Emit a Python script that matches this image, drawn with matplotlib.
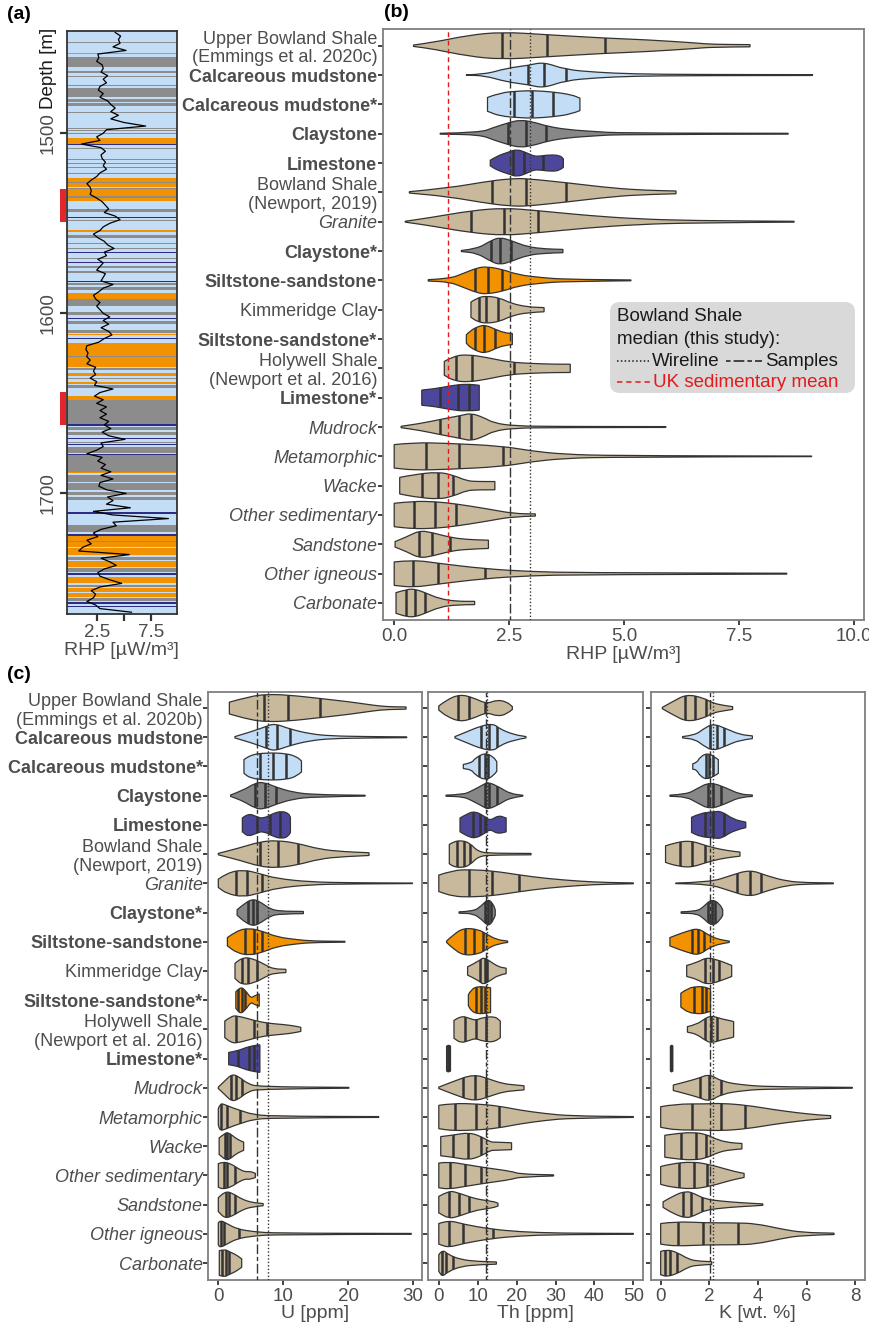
import matplotlib
matplotlib.use("Agg")
import matplotlib.pyplot as plt
from matplotlib.path import Path
from matplotlib.patches import PathPatch, Rectangle, FancyBboxPatch
from matplotlib.lines import Line2D
from matplotlib.transforms import blended_transform_factory, IdentityTransform
from matplotlib.ticker import FormatStrFormatter

plt.rcParams['font.family'] = ['Liberation Sans', 'DejaVu Sans']

W, H = 870, 1331

TAN = '#c9b99c'
LIGHT_BLUE = '#c2ddf5'
GREY = '#878787'
NAVY = '#4d479b'
ORANGE = '#f39200'
EDGE = '#333333'
RED = '#e31a1c'
TEXT = '#4d4d4d'

# ---------------------------------------------------------------- categories
categories = ['Upper Bowland Shale\n(Emmings et al. 2020c)', 'Calcareous mudstone',
              'Calcareous mudstone*', 'Claystone', 'Limestone',
              'Bowland Shale\n(Newport, 2019)', 'Granite', 'Claystone*',
              'Siltstone-sandstone', 'Kimmeridge Clay', 'Siltstone-sandstone*',
              'Holywell Shale\n(Newport et al. 2016)', 'Limestone*', 'Mudrock',
              'Metamorphic', 'Wacke', 'Other sedimentary', 'Sandstone',
              'Other igneous', 'Carbonate']
categories_c = ['Upper Bowland Shale\n(Emmings et al. 2020b)'] + categories[1:]
label_style = ['normal', 'bold', 'bold', 'bold', 'bold', 'normal', 'italic', 'bold',
               'bold', 'normal', 'bold', 'normal', 'bold'] + ['italic'] * 7
fill_colors = [TAN, LIGHT_BLUE, LIGHT_BLUE, GREY, NAVY, TAN, TAN, GREY, ORANGE, TAN,
               ORANGE, TAN, NAVY] + [TAN] * 7

# violin outlines: (value, relative half width) ; quartiles: (q1, median, q3)
rhp_profiles = [
    [(0.42, .05), (0.87, .25), (1.59, .75), (2.34, 1.), (3.32, .8), (4.59, .55), (5.5, .43), (6.57, .2), (6.9, .1), (7.74, .08)],
    [(1.57, .02), (1.96, .04), (2.45, .5), (2.92, .7), (3.25, .95), (3.72, .4), (4.4, .2), (5.2, .08), (6.5, .04), (9.1, .03)],
    [(2.03, .5), (2.3, .85), (2.74, .97), (3.03, 1.), (3.46, .9), (3.86, .7), (4.04, .45)],
    [(1.0, .03), (1.87, .08), (2.16, .45), (2.49, .8), (2.74, 1.), (3.03, .85), (3.32, .55), (3.75, .3), (4.4, .15), (4.9, .05), (8.57, .03)],
    [(2.09, .2), (2.23, .5), (2.49, .8), (2.67, 1.), (2.88, .75), (3.03, .5), (3.17, .5), (3.39, .6), (3.61, .55), (3.68, .3)],
    [(0.33, .05), (1.15, .3), (2.12, .85), (2.59, 1.), (2.88, 1.), (3.75, .7), (4.77, .3), (5.5, .15), (6.13, .1)],
    [(0.24, .03), (0.8, .3), (1.67, .8), (2.4, 1.), (3.13, .8), (4.2, .45), (5.3, .2), (6.5, .08), (8.7, .03)],
    [(1.46, .04), (1.8, .15), (2.1, .75), (2.3, 1.), (2.55, .75), (2.9, .3), (3.3, .15), (3.67, .12)],
    [(0.74, .05), (1.2, .12), (1.5, .5), (1.8, .9), (2.0, 1.), (2.35, .8), (2.7, .4), (3.2, .2), (3.7, .08), (5.15, .03)],
    [(1.67, .55), (1.8, .85), (2.0, 1.), (2.3, .85), (2.55, .45), (2.9, .2), (3.26, .15)],
    [(1.57, .3), (1.65, .6), (1.85, .95), (2.0, 1.), (2.2, .7), (2.4, .45), (2.57, .4)],
    [(1.09, .5), (1.3, .9), (1.6, 1.), (2.0, .8), (2.5, .45), (3.0, .35), (3.5, .3), (3.83, .3)],
    [(0.6, .55), (0.9, .65), (1.2, .85), (1.55, 1.), (1.85, .9)],
    [(0.15, .05), (0.57, .25), (1.0, .55), (1.48, .85), (1.67, 1.), (1.94, .7), (2.16, .3), (2.6, .08), (3.5, .04), (5.91, .03)],
    [(0.0, .85), (0.42, 1.), (1.14, .95), (2.34, .75), (2.96, .4), (3.68, .15), (4.77, .05), (9.08, .02)],
    [(0.12, .6), (0.42, .8), (0.96, 1.), (1.29, .75), (1.58, .35), (1.8, .3), (2.19, .3)],
    [(0.0, .85), (0.42, 1.), (0.89, .97), (1.36, .8), (2.02, .45), (2.6, .1), (3.07, .08)],
    [(0.02, .2), (0.28, .55), (0.55, 1.), (0.83, .85), (1.22, .5), (1.58, .35), (2.05, .3)],
    [(0.0, .85), (0.42, 1.), (0.96, .75), (1.98, .35), (2.96, .15), (4.04, .07), (8.54, .03)],
    [(0.04, .75), (0.28, 1.), (0.46, 1.), (0.67, .75), (0.99, .3), (1.36, .12), (1.75, .12)],
]
rhp_quartiles = [(2.34, 3.32, 4.59), (2.92, 3.26, 3.74), (2.61, 2.99, 3.46), (2.48, 2.87, 3.3),
                 (2.59, 2.83, 3.23), (2.12, 2.87, 3.73), (1.67, 2.39, 3.13), (2.1, 2.3, 2.55),
                 (1.75, 2.05, 2.35), (1.85, 2.0, 2.25), (1.75, 1.95, 2.2), (1.35, 1.7, 2.6),
                 (1.0, 1.38, 1.62), (0.99, 1.42, 1.67), (0.69, 1.41, 2.36), (0.6, 0.96, 1.28),
                 (0.43, 0.89, 1.35), (0.55, 0.82, 1.22), (0.42, 0.96, 1.98), (0.26, 0.46, 0.66)]

u_profiles = [
    [(1.7, .43), (4.9, .85), (7.4, 1.), (10.8, .95), (15.6, .7), (20.3, .45), (23.9, .2), (26, .1), (28.9, .08)],
    [(2.57, .05), (5.4, .45), (7.4, .8), (8.7, 1.), (11.0, .6), (14.1, .25), (17.2, .1), (22.8, .05), (29.0, .03)],
    [(3.95, .5), (4.9, .85), (7.4, 1.), (10.5, .95), (12.1, .7), (12.8, .4)],
    [(1.9, .05), (3.85, .4), (5.6, .9), (6.9, 1.), (9.0, .6), (11.5, .25), (14.6, .08), (22.6, .03)],
    [(3.7, .5), (4.6, .85), (5.9, .6), (6.9, .45), (8.5, .85), (9.75, 1.), (10.8, .85), (11.1, .55)],
    [(0.0, .05), (3.3, .45), (6.4, .9), (9.0, 1.), (12.1, .8), (15.6, .35), (19.2, .18), (23.2, .1)],
    [(0.0, .3), (1.3, .75), (3.85, 1.), (6.4, .7), (9.0, .35), (14.1, .1), (20.3, .04), (29.9, .02)],
    [(2.9, .2), (4.1, .7), (5.4, 1.), (6.7, .7), (8.0, .25), (9.5, .1), (13.1, .08)],
    [(1.4, .3), (2.8, .8), (4.8, 1.), (6.9, .75), (9.0, .35), (12.1, .15), (14.6, .05), (19.5, .03)],
    [(2.57, .55), (3.6, 1.), (5.4, .9), (7.4, .4), (8.5, .15), (10.4, .12)],
    [(2.7, .6), (3.4, 1.), (4.2, .7), (5.0, .15), (5.5, .3), (6.3, .45)],
    [(1.0, .6), (1.95, .95), (2.9, 1.), (5.5, .65), (7.5, .45), (10.1, .35), (11.7, .25), (12.7, .15)],
    [(1.6, .45), (2.9, .55), (4.2, .8), (5.5, .95), (6.4, 1.)],
    [(0.0, .05), (1.0, .5), (2.1, 1.), (3.2, .8), (4.5, .3), (6.2, .08), (20.1, .03)],
    [(0.0, .6), (0.3, 1.), (1.0, .9), (2.3, .65), (3.6, .45), (5.2, .2), (8.1, .06), (24.7, .03)],
    [(0.13, .6), (1.0, .95), (1.6, 1.), (2.6, .6), (3.6, .35), (3.9, .3)],
    [(0.0, .85), (0.65, 1.), (1.95, .85), (3.2, .45), (4.2, .25), (4.9, .3), (5.7, .15)],
    [(0.0, .5), (1.0, 1.), (2.3, .8), (3.6, .4), (5.2, .15), (6.9, .08)],
    [(0.0, .8), (0.3, 1.), (1.3, .75), (2.9, .35), (5.5, .15), (8.8, .05), (29.7, .03)],
    [(0.15, .9), (1.0, 1.), (1.6, .85), (2.3, .7), (2.9, .55), (3.6, .3)],
]
u_quartiles = [(7.0, 10.8, 15.6), (7.3, 9.1, 11.0), (6.4, 8.4, 10.4), (5.65, 7.2, 8.9),
               (6.0, 7.95, 9.5), (6.4, 9.2, 12.3), (2.7, 4.36, 6.8), (4.6, 5.4, 6.0),
               (4.1, 5.5, 6.7), (3.6, 4.6, 5.9), (3.1, 3.6, 4.1), (2.8, 5.5, 7.5),
               (3.1, 4.7, 5.5), (1.95, 2.7, 3.6), (0.45, 1.4, 3.4), (1.0, 1.4, 1.8),
               (0.8, 1.4, 2.5), (1.2, 1.7, 2.6), (0.35, 0.8, 3.2), (0.5, 1.2, 1.7)]

th_profiles = [
    [(0.0, .15), (2.0, .6), (5.45, 1.), (8.9, .75), (12.3, .3), (14.9, .6), (17.5, .45), (18.9, .1)],
    [(4.16, .05), (7.2, .4), (10.6, .8), (14.0, 1.), (15.7, .6), (19.2, .2), (22.4, .05)],
    [(6.3, .15), (8.45, .25), (9.3, .6), (11.9, 1.), (14.0, .7), (14.9, .35)],
    [(1.85, .04), (6.3, .08), (8.45, .35), (11.4, .8), (12.7, 1.), (15.7, .6), (18.3, .15), (21.6, .03)],
    [(5.45, .5), (7.2, .8), (9.3, 1.), (11.9, .6), (13.2, .3), (15.3, .7), (17.3, .5)],
    [(2.7, .7), (3.7, .9), (5.9, 1.), (8.0, .8), (10.2, .15), (14.0, .06), (23.7, .05)],
    [(0.0, .6), (3.7, .95), (8.0, 1.), (14, .9), (20.9, .6), (27.7, .35), (36.3, .15), (43.2, .06), (50, .03)],
    [(5.2, .05), (8.9, .08), (11.0, .5), (12.7, 1.), (14.0, .6), (14.5, .2)],
    [(2.0, .05), (3.7, .5), (6.3, 1.), (10.2, .9), (12.3, .55), (14.9, .15), (17.7, .05)],
    [(7.4, .3), (10.2, .7), (11.45, 1.), (13.2, .7), (15.3, .3), (17.3, .2)],
    [(7.6, .4), (8.4, .8), (10.0, 1.), (12.2, .95), (13.3, .9)],
    [(3.9, .65), (5.7, 1.), (7.9, .8), (9.5, .65), (11.1, .85), (14.4, .95), (15.8, .6)],
    [(2.0, .9), (2.5, 1.), (3.0, .9)],
    [(0.0, .05), (3.6, .45), (9.0, 1.), (13.3, .6), (16.5, .3), (19.8, .2), (21.9, .15)],
    [(0.0, .85), (3.6, 1.), (10, .95), (15.4, .8), (20.8, .5), (27.3, .25), (33.8, .08), (50, .03)],
    [(0.5, .7), (3.6, .8), (7.6, 1.), (10.6, .75), (13.3, .3), (14.4, .3), (18.7, .25)],
    [(0.0, .9), (2.5, 1.), (6.8, .8), (12.2, .55), (18.7, .3), (20.8, .1), (29.5, .04)],
    [(0.0, .6), (2.5, 1.), (4.6, .9), (9.0, .45), (12.2, .3), (14.4, .2), (15.2, .1)],
    [(0.0, .75), (2.5, 1.), (6.3, .7), (13.3, .35), (20.8, .15), (30.6, .05), (50, .03)],
    [(0.0, .6), (0.9, 1.), (2.5, .6), (5.7, .25), (10.0, .12), (14.8, .08)],
]
th_quartiles = [(5.0, 7.85, 12.0), (10.85, 12.9, 15.05), (10.3, 11.9, 12.7), (11.9, 12.9, 14.9),
                (8.9, 10.6, 11.9), (4.6, 6.5, 8.0), (7.85, 13.75, 20.6), (11.95, 12.7, 13.3),
                (6.7, 9.05, 11.45), (10.6, 11.9, 12.5), (9.5, 10.9, 12.0), (6.8, 9.5, 12.2),
                (2.3, 2.55, 2.8), (6.3, 9.2, 12.2), (4.1, 9.5, 15.4), (3.6, 7.6, 10.9),
                (2.8, 6.8, 10.9), (2.7, 5.3, 7.8), (2.7, 6.1, 13.8), (0.9, 1.8, 3.7)]

k_profiles = [
    [(0.07, .05), (0.52, .5), (1.07, 1.), (1.75, .75), (2.16, .35), (2.58, .2), (2.96, .1)],
    [(0.9, .05), (1.41, .15), (1.75, .6), (2.16, 1.), (2.72, .6), (3.26, .2), (3.77, .1)],
    [(1.32, .2), (1.48, .25), (1.62, .7), (1.96, 1.), (2.37, .5)],
    [(0.38, .04), (1.07, .1), (1.48, .5), (2.03, 1.), (2.72, .55), (3.26, .1), (3.77, .05)],
    [(1.27, .55), (1.62, .85), (2.16, .95), (2.5, 1.), (2.99, .4), (3.5, .2)],
    [(0.2, .6), (0.52, .8), (1.2, 1.), (1.89, .6), (2.44, .35), (2.99, .2), (3.26, .15)],
    [(0.62, .02), (2.03, .08), (2.85, .55), (3.67, 1.), (4.36, .55), (5.19, .15), (6.0, .05), (7.1, .03)],
    [(0.84, .05), (1.48, .08), (1.75, .4), (2.1, 1.), (2.44, .6), (2.55, .2)],
    [(0.38, .3), (0.66, .5), (1.07, .75), (1.55, 1.), (2.03, .4), (2.44, .15), (2.82, .05)],
    [(1.07, .4), (1.48, .6), (1.89, 1.), (2.44, .75), (2.92, .4)],
    [(0.83, .5), (1.13, .9), (1.57, 1.), (1.83, .95), (2.05, .8)],
    [(1.1, .2), (1.48, .35), (1.83, .8), (2.09, 1.), (2.52, .75), (2.96, .6), (3.0, .55)],
    [(0.4, .9), (0.45, 1.), (0.5, .9)],
    [(0.52, .2), (0.96, .4), (1.57, .7), (2.0, 1.), (2.52, .45), (3.39, .2), (4.43, .08), (7.88, .03)],
    [(0.0, .75), (0.61, .95), (1.83, .95), (2.52, 1.), (3.57, .85), (4.6, .55), (5.65, .3), (6.5, .15), (6.99, .1)],
    [(0.17, .8), (0.78, .95), (1.3, 1.), (1.83, .9), (2.35, .45), (2.87, .25), (3.34, .2)],
    [(0.0, .65), (0.43, .85), (1.3, 1.), (2.0, .8), (2.7, .45), (3.13, .25), (3.43, .15)],
    [(0.1, .2), (0.52, .65), (1.04, 1.), (1.39, .8), (1.83, .4), (2.52, .25), (3.22, .15), (4.2, .05)],
    [(0.0, .75), (0.61, .9), (1.83, .8), (3.04, .8), (3.91, .75), (4.96, .35), (5.83, .1), (7.13, .05)],
    [(0.0, .85), (0.26, 1.), (0.7, .75), (1.13, .3), (1.48, .15), (2.1, .1)],
]
k_quartiles = [(1.0, 1.41, 1.86), (2.03, 2.3, 2.6), (1.85, 2.0, 2.15), (1.95, 2.15, 2.48),
               (1.82, 2.16, 2.6), (0.79, 1.3, 1.82), (3.13, 3.67, 4.12), (1.96, 2.1, 2.23),
               (1.27, 1.55, 1.78), (1.82, 2.14, 2.41), (1.39, 1.69, 1.88), (1.83, 2.05, 2.31),
               (0.42, 0.45, 0.48), (1.6, 2.0, 2.49), (1.27, 2.49, 3.48), (0.82, 1.44, 1.88),
               (0.75, 1.39, 1.91), (0.9, 1.23, 1.69), (0.73, 1.75, 3.19), (0.18, 0.38, 0.66)]

# Bowland Shale medians (samples, wireline) and UK sedimentary mean
rhp_medians = (2.52, 2.96)
uk_sed_mean_rhp = 1.17
u_medians = (6.0, 7.6)
th_medians = (12.25, 12.45)
k_medians = (2.03, 2.15)

# ---------------------------------------------------------------- well log
log_depth = list(range(1444, 1767, 2))
log_rhp = [4.2, 4.7, 4.5, 4.65, 4.0, 5.2, 2.6, 2.7, 2.5, 3.0, 3.1, 2.9, 3.5, 3.1, 3.4, 2.8,
           2.65, 3.1, 2.8, 3.5, 3.8, 4.2, 3.8, 4.5, 3.8, 5.0, 7.0, 3.4, 3.1, 2.5, 2.8, 1.1,
           2.9, 3.3, 2.9, 3.0, 3.3, 3.1, 3.4, 2.8, 2.5, 2.0, 1.6, 1.9, 2.0, 1.9, 2.5, 3.0,
           3.3, 3.6, 3.2, 4.2, 4.65, 3.7, 3.1, 2.8, 2.2, 2.6, 3.2, 3.5, 4.1, 3.2, 3.4, 2.6,
           3.1, 2.8, 2.5, 3.3, 3.1, 2.9, 4.0, 3.1, 2.7, 2.2, 2.4, 2.8, 2.5, 2.8, 3.1, 3.7,
           3.1, 3.6, 2.9, 3.6, 3.9, 3.2, 2.7, 1.6, 1.5, 1.7, 1.58, 1.9, 1.6, 2.4, 2.2, 2.4,
           1.9, 2.5, 2.3, 4.0, 2.8, 2.3, 3.1, 2.5, 3.4, 2.8, 3.4, 2.8, 3.6, 3.2, 3.8, 3.0,
           3.6, 5.1, 2.9, 3.1, 2.5, 1.6, 3.0, 2.6, 3.3, 2.9, 3.8, 2.9, 4.0, 2.8, 2.7, 3.4,
           5.2, 3.5, 4.0, 3.4, 5.6, 2.2, 4.0, 9.1, 4.0, 4.3, 2.9, 2.2, 2.6, 1.6, 2.0, 1.2,
           0.85, 5.5, 2.9, 3.7, 4.3, 3.2, 2.6, 2.8, 3.7, 4.8, 2.8, 2.0, 2.4, 2.2, 1.6, 2.4,
           2.8, 5.7]

# lithology beds (top, base) in m; the background is calcareous mudstone
claystone_beds = [(1449.2, 1449.7), (1457.9, 1463.0), (1465.6, 1466.4), (1468.1, 1468.5),
                  (1471.3, 1471.7), (1473.1, 1473.7), (1474.9, 1479.6), (1481.1, 1482.4),
                  (1483.3, 1484.8), (1488.0, 1488.9), (1497.0, 1497.5), (1498.0, 1498.5),
                  (1500.0, 1500.4), (1508.3, 1508.6), (1510.2, 1510.5), (1512.0, 1512.3),
                  (1514.4, 1514.7), (1516.6, 1516.9), (1518.5, 1519.4), (1522.2, 1522.5),
                  (1523.7, 1524.0), (1527.0, 1527.4), (1530.6, 1531.0), (1534.8, 1536.0),
                  (1542.0, 1543.9), (1548.1, 1548.5), (1549.6, 1550.0), (1556.5, 1558.3),
                  (1561.1, 1561.5), (1563.9, 1564.3), (1569.3, 1569.7), (1573.7, 1574.8),
                  (1576.5, 1577.6), (1583.3, 1584.3), (1585.2, 1587.0), (1592.2, 1595.9),
                  (1599.1, 1600.9), (1604.0, 1605.8), (1609.3, 1610.7), (1623.7, 1624.4),
                  (1630.6, 1631.5), (1636.1, 1636.7), (1639.8, 1641.7), (1648.1, 1661.5),
                  (1663.0, 1664.8), (1665.7, 1667.6), (1671.3, 1672.2), (1674.1, 1677.8),
                  (1678.7, 1688.0), (1689.8, 1693.5), (1694.4, 1698.1), (1699.1, 1700.9),
                  (1701.8, 1703.7), (1717.6, 1721.3), (1726.3, 1727.2), (1735.2, 1737.0),
                  (1741.7, 1743.5), (1750.9, 1751.9), (1758.3, 1759.6)]
siltstone_beds = [(1455.4, 1455.9), (1502.4, 1505.9), (1524.6, 1526.9), (1527.4, 1530.0),
                  (1531.0, 1534.8), (1536.0, 1537.4), (1554.0, 1555.0), (1588.9, 1592.2),
                  (1611.3, 1611.9), (1616.3, 1623.7), (1624.4, 1629.6), (1633.3, 1634.8),
                  (1638.0, 1639.0), (1645.9, 1648.1), (1688.0, 1688.9), (1723.7, 1726.3),
                  (1727.2, 1729.6), (1730.6, 1734.3), (1737.4, 1740.7), (1746.3, 1750.0),
                  (1752.8, 1754.6), (1755.5, 1757.4)]
limestone_beds = [(1457.4, 1457.9), (1506.0, 1506.4), (1520.2, 1520.6), (1546.5, 1546.9),
                  (1566.1, 1566.6), (1571.3, 1571.8), (1582.2, 1582.7), (1602.6, 1603.0),
                  (1613.8, 1614.4), (1661.5, 1662.6), (1669.4, 1670.0), (1672.6, 1673.1),
                  (1678.0, 1678.7), (1710.5, 1711.2), (1722.5, 1723.7), (1744.4, 1745.2),
                  (1760.5, 1761.2), (1762.3, 1762.9)]
sampled_intervals = [(1531.0, 1549.4), (1643.9, 1662.2)]

HALF = 0.47
SAMPLES_LS = (0, (3, 2, 7, 2))
WIRELINE_LS = (0, (1, 1.5))
UK_LS = (0, (3.5, 2.5))


def box(x0, y0, x1, y1):
    """pixel box (from the top left corner) -> figure fraction rect"""
    return [x0 / W, 1 - y1 / H, (x1 - x0) / W, (y1 - y0) / H]


def draw_violin(ax, row, profile, quart, color):
    xs = [p[0] for p in profile]
    ws = [p[1] * HALF for p in profile]
    upper = [(x, row - w) for x, w in zip(xs, ws)]
    lower = [(x, row + w) for x, w in zip(xs, ws)][::-1]
    verts, codes = [upper[0]], [Path.MOVETO]
    for side in (upper, lower):
        if side is lower:
            verts.append(side[0])
            codes.append(Path.LINETO)
        for i in range(1, len(side) - 1):
            mid = ((side[i][0] + side[i + 1][0]) / 2, (side[i][1] + side[i + 1][1]) / 2)
            verts += [side[i], mid]
            codes += [Path.CURVE3, Path.CURVE3]
        verts.append(side[-1])
        codes.append(Path.LINETO)
    verts.append(upper[0])
    codes.append(Path.CLOSEPOLY)
    patch = PathPatch(Path(verts, codes), facecolor=color, edgecolor=EDGE, lw=0.9, zorder=2)
    ax.add_patch(patch)
    for q in quart:
        ln, = ax.plot([q, q], [row - 0.5, row + 0.5], color=EDGE, lw=1.8, zorder=3,
                      solid_capstyle='butt')
        ln.set_clip_path(patch)


def violin_panel(ax, profiles, quartiles, medians, xlim, labels=None):
    for i in range(len(profiles)):
        draw_violin(ax, i, profiles[i], quartiles[i], fill_colors[i])
    ax.axvline(medians[0], color=EDGE, lw=1.0, ls=SAMPLES_LS, zorder=4)
    ax.axvline(medians[1], color=EDGE, lw=1.0, ls=WIRELINE_LS, zorder=4)
    ax.set_xlim(*xlim)
    ax.set_ylim(19.58, -0.56)
    ax.set_yticks(range(len(profiles)))
    ax.tick_params(axis='both', length=3.5, width=1.3, color=EDGE, labelcolor=TEXT)
    ax.tick_params(axis='y', labelsize=13, pad=0.5)
    ax.tick_params(axis='x', labelsize=13.5, pad=2)
    if labels is None:
        ax.set_yticklabels([])
    else:
        ax.set_yticklabels(labels, linespacing=1.12)
        for lbl, st in zip(ax.get_yticklabels(), label_style):
            if st == 'bold':
                lbl.set_fontweight('bold')
            elif st == 'italic':
                lbl.set_fontstyle('italic')
    for sp in ax.spines.values():
        sp.set_color('#7f7f7f')
        sp.set_linewidth(1.3)


fig = plt.figure(figsize=(W / 100, H / 100), dpi=100)

# ---------------------------------------------------------------- (a) well log
ax_a = fig.add_axes(box(66.7, 31, 176.7, 614))
ax_a.set_facecolor(LIGHT_BLUE)
for beds, col in ((claystone_beds, '#8c8c8c'), (siltstone_beds, ORANGE),
                  (limestone_beds, '#2d2d85')):
    for top, base in beds:
        ax_a.axhspan(top, base, color=col, lw=0, zorder=1)
ax_a.plot(log_rhp, log_depth, color='black', lw=0.9, zorder=3)
ax_a.set_xlim(-0.26, 9.86)
ax_a.set_ylim(1767, 1443.2)
ax_a.set_xticks([2.5, 5, 7.5])
ax_a.set_xticklabels(['2.5', '', '7.5'])
ax_a.set_yticks([1500, 1600, 1700])
ax_a.set_yticklabels(['1500', '1600', '1700'], rotation=90, va='center')
ax_a.tick_params(axis='both', length=5, width=1.6, color=EDGE, labelcolor=TEXT,
                 labelsize=13.5, pad=2)
for sp in ax_a.spines.values():
    sp.set_color(EDGE)
    sp.set_linewidth(1.3)
ax_a.set_xlabel('RHP [µW/m³]', fontsize=14, color=TEXT, labelpad=1)
mark = blended_transform_factory(ax_a.transAxes, ax_a.transData)
for top, base in sampled_intervals:
    ax_a.add_patch(Rectangle((-0.062, top), 0.055, base - top, transform=mark,
                             color='#e3262b', lw=0, clip_on=False))
fig.text(49 / W, 1 - 68 / H, 'Depth [m]', rotation=90, ha='center', va='center',
         fontsize=13.5, color='#1a1a1a')

# ---------------------------------------------------------------- (b) RHP
ax_b = fig.add_axes(box(382.7, 29.3, 864, 620))
violin_panel(ax_b, rhp_profiles, rhp_quartiles, rhp_medians, (-0.25, 10.22), categories)
ax_b.axvline(uk_sed_mean_rhp, color=RED, lw=1.0, ls=UK_LS, zorder=4)
ax_b.set_xticks([0, 2.5, 5, 7.5, 10])
ax_b.xaxis.set_major_formatter(FormatStrFormatter('%.1f'))
ax_b.set_xlabel('RHP [µW/m³]', fontsize=14, color=TEXT, labelpad=1)

# legend box
fig.add_artist(FancyBboxPatch((610, H - 393), 245, 91, boxstyle='round,pad=0,rounding_size=10',
                              transform=IdentityTransform(), facecolor='#d9d9d9',
                              edgecolor='none'))
fs_leg = 13.5
fig.text(617 / W, 1 - 321 / H, 'Bowland Shale', fontsize=fs_leg, color='#1a1a1a', va='baseline')
fig.text(617 / W, 1 - 344 / H, 'median (this study):', fontsize=fs_leg, color='#1a1a1a',
         va='baseline')
fig.text(652 / W, 1 - 366 / H, 'Wireline', fontsize=fs_leg, color='#1a1a1a', va='baseline')
fig.text(765 / W, 1 - 366 / H, 'Samples', fontsize=fs_leg, color='#1a1a1a', va='baseline')
fig.text(653 / W, 1 - 387 / H, 'UK sedimentary mean', fontsize=fs_leg, color=RED, va='baseline')
for x0, x1, yy, ls, col in ((617, 649, 361, WIRELINE_LS, '#1a1a1a'),
                            (726, 762, 361, SAMPLES_LS, '#1a1a1a'),
                            (617, 650, 382, UK_LS, RED)):
    fig.add_artist(Line2D([x0 / W, x1 / W], [1 - yy / H, 1 - yy / H], transform=fig.transFigure,
                          color=col, lw=1.1, ls=ls))

# ---------------------------------------------------------------- (c) U, Th, K
ax_u = fig.add_axes(box(208.3, 691.7, 422.3, 1280))
violin_panel(ax_u, u_profiles, u_quartiles, u_medians, (-1.54, 31.4), categories_c)
ax_u.set_xticks([0, 10, 20, 30])
ax_u.set_xlabel('U [ppm]', fontsize=14, color=TEXT, labelpad=0)

ax_th = fig.add_axes(box(428.3, 691.7, 642.7, 1280))
violin_panel(ax_th, th_profiles, th_quartiles, th_medians, (-2.7, 52.4))
ax_th.set_xticks([0, 10, 20, 30, 40, 50])
ax_th.set_xlabel('Th [ppm]', fontsize=14, color=TEXT, labelpad=0)

ax_k = fig.add_axes(box(650.7, 691.7, 864.7, 1280))
violin_panel(ax_k, k_profiles, k_quartiles, k_medians, (-0.41, 8.39))
ax_k.set_xticks([0, 2, 4, 6, 8])
ax_k.set_xlabel('K [wt. %]', fontsize=14, color=TEXT, labelpad=0)

# panel letters
for x, y, s in ((7, 6, '(a)'), (384, 4, '(b)'), (7, 666, '(c)')):
    fig.text(x / W, 1 - y / H, s, fontsize=14, fontweight='bold', color='black', va='top')

fig.savefig('out.png', dpi=100)
